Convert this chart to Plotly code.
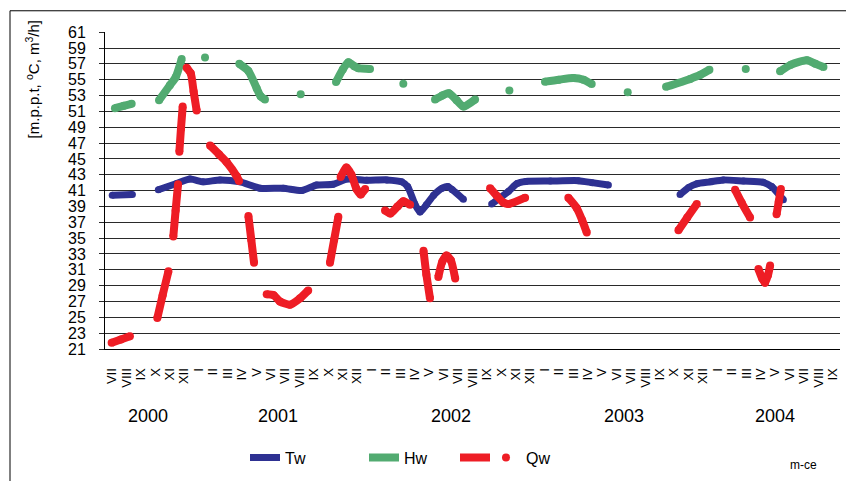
import plotly.graph_objects as go

# ---------------- data ----------------
months = ["VII", "VIII", "IX", "X", "XI", "XII",
          "I", "II", "III", "IV", "V", "VI", "VII", "VIII", "IX", "X", "XI", "XII",
          "I", "II", "III", "IV", "V", "VI", "VII", "VIII", "IX", "X", "XI", "XII",
          "I", "II", "III", "IV", "V", "VI", "VII", "VIII", "IX", "X", "XI", "XII",
          "I", "II", "III", "IV", "V", "VI", "VII", "VIII", "IX"]
years = ["2000", "2001", "2002", "2003", "2004"]
year_first_month = [0, 6, 18, 30, 42]
year_last_month = [5, 17, 29, 41, 50]

tw_x = [0.5, 1.9, None,
        3.7, 4.97, 5.9, 6.82, 7.98, 9.37, 10.76, 12.37, 13.65, 14.69, 15.84, 16.77,
        18.16, 19.55, 20.59, 21.0, 21.5, 21.86, 22.3, 22.8, 23.4, 23.8, 24.1, 24.87, None,
        26.83, 28.0, 28.6, 29.2, 30.9, 32.85, 33.8, 34.93, None,
        39.9, 40.5, 41.06, 42.0, 42.9, 44.3, 45.68, 46.26, 47.07]
tw_y = [40.4, 40.5, None,
        41.1, 41.9, 42.45, 42.1, 42.35, 42.1, 41.3, 41.3, 41.0, 41.7, 41.8, 42.45,
        42.3, 42.35, 42.1, 41.5, 39.3, 38.3, 39.2, 40.4, 41.3, 41.5, 41.1, 39.9, None,
        39.3, 40.9, 41.9, 42.15, 42.2, 42.25, 42.0, 41.7, None,
        40.5, 41.4, 41.85, 42.1, 42.35, 42.2, 42.05, 41.5, 39.85]

hw_x = [0.69, 1.3, 1.85, None,
        3.75, 4.5, 4.9, 5.32, None,
        6.94, None,
        9.32, 9.95, 10.53, 10.8, 11.1, None,
        13.58, None,
        16.03, 16.5, 16.89, 17.3, 17.58, 18.39, None,
        20.7, None,
        22.9, 23.4, 23.85, 24.4, 24.87, 25.68, None,
        28.06, None,
        30.53, 31.5, 32.5, 33.2, 33.77, None,
        36.27, None,
        38.93, 40.6, 41.3, 41.94, None,
        44.46, None,
        46.84, 47.6, 48.7, 49.3, 49.85]
hw_y = [51.4, 51.7, 51.95, None,
        52.4, 54.3, 55.3, 57.6, None,
        57.8, None,
        57.0, 56.1, 53.9, 52.9, 52.5, None,
        53.15, None,
        54.7, 56.3, 57.2, 56.7, 56.45, 56.35, None,
        54.5, None,
        52.5, 53.0, 53.3, 52.4, 51.6, 52.5, None,
        53.65, None,
        54.75, 55.0, 55.2, 55.0, 54.45, None,
        53.4, None,
        54.1, 55.1, 55.6, 56.25, None,
        56.35, None,
        56.05, 56.9, 57.45, 57.0, 56.6]

qw_x = [0.46, 1.1, 1.73, None,
        3.63, 4.0, 4.4, None,
        4.74, 4.9, 5.07, None,
        5.16, 5.27, 5.39, None,
        5.67, 5.95, 6.15, 6.36, None,
        7.29, 7.9, 8.44, 9.14, 9.3, None,
        9.95, 10.15, 10.34, None,
        11.22, 11.7, 12.14, 12.84, 13.53, 14.1, None,
        15.61, 15.9, 16.19, None,
        16.35, 16.75, 17.1, 17.45, 17.75, 18.05, None,
        19.43, 19.8, 20.3, 20.7, 21.17, None,
        22.1, 22.3, 22.55, None,
        23.13, 23.4, 23.7, 24.0, 24.3, None,
        26.72, 27.2, 27.64, 28.0, 29.15, None,
        32.15, 32.73, 33.1, 33.43, None,
        39.79, 40.4, 41.06, None,
        43.72, 44.18, 44.76, None,
        45.34, 45.6, 45.8, 46.0, 46.15, None,
        46.6, 46.75, 46.9]
qw_y = [21.8, 22.2, 22.6, None,
        24.9, 27.8, 30.8, None,
        35.2, 38.5, 41.8, None,
        45.9, 48.8, 51.6, None,
        56.5, 55.8, 53.5, 51.1, None,
        46.7, 45.6, 44.6, 42.8, 42.2, None,
        37.8, 34.8, 31.9, None,
        27.9, 27.8, 27.0, 26.6, 27.4, 28.4, None,
        31.9, 34.8, 37.7, None,
        42.7, 43.9, 43.0, 41.2, 40.5, 41.2, None,
        38.5, 38.1, 39.0, 39.65, 39.2, None,
        33.4, 30.4, 27.4, None,
        30.1, 32.0, 32.8, 32.2, 29.9, None,
        41.3, 40.3, 39.5, 39.3, 40.1, None,
        40.1, 38.8, 37.3, 35.7, None,
        36.0, 37.6, 39.3, None,
        41.1, 39.45, 37.6, None,
        31.1, 29.9, 29.35, 30.3, 31.55, None,
        38.0, 39.6, 41.2]

# ---------------- style ----------------
BLUE = "#2E3192"
GREEN = "#52AB71"
RED = "#EE1D25"
FONT = "Arial, Liberation Sans, sans-serif"

W, H = 846, 481
L, R, T, B = 105, 6, 32, 128
PW, PH = W - L - R, H - T - B


def px_x(p):
    return (p - L) / PW


def px_y(p):
    return 1 - (p - T) / PH


fig = go.Figure()

series = [
    ("Tw", tw_x, tw_y, BLUE, 7, "legend"),
    ("Hw", hw_x, hw_y, GREEN, 8, "legend2"),
    ("Qw", qw_x, qw_y, RED, 8, "legend3"),
]
for name, xs, ys, col, w, lg in series:
    fig.add_trace(go.Scatter(
        x=xs, y=ys, mode="lines", name=(name if name != "Qw" else " "),
        line=dict(color=col, width=w, shape="spline", smoothing=0.6),
        connectgaps=False, legend=lg, showlegend=True, hoverinfo="skip"))
    fig.add_trace(go.Scatter(
        x=xs, y=ys, mode="markers", name=name,
        marker=dict(color=col, size=w, line=dict(width=0)),
        legend=("legend4" if name == "Qw" else lg),
        showlegend=(name == "Qw"), hoverinfo="skip"))

# year labels
annotations = []
for yr, a, b in zip(years, year_first_month, year_last_month):
    annotations.append(dict(
        x=(a + b + 1) / 2, y=px_y(421), xref="x", yref="paper",
        text=yr, showarrow=False, font=dict(family=FONT, size=18, color="black"),
        xanchor="center", yanchor="middle"))

annotations.append(dict(
    x=px_x(32), y=px_y(80), xref="paper", yref="paper",
    text="[m.p.p.t, <sup>o</sup>C, m<sup>3</sup>/h]", textangle=-90, showarrow=False,
    font=dict(family=FONT, size=15, color="black"), xanchor="center", yanchor="middle"))

annotations.append(dict(
    x=px_x(803), y=px_y(470), xref="paper", yref="paper",
    text="m-ce", showarrow=False, font=dict(family=FONT, size=12, color="black"),
    xanchor="center", yanchor="middle"))

legend_font = dict(family=FONT, size=16, color="black")
common_leg = dict(orientation="h", yanchor="middle", y=px_y(463), xanchor="left",
                  font=legend_font, bgcolor="rgba(0,0,0,0)", borderwidth=0,
                  itemclick=False, itemdoubleclick=False)

fig.update_layout(
    width=W, height=H,
    margin=dict(l=L, r=R, t=T, b=B, pad=0),
    paper_bgcolor="white", plot_bgcolor="white",
    font=dict(family=FONT, size=14, color="black"),
    xaxis=dict(
        range=[0, len(months)], tickmode="array",
        tickvals=[i + 0.5 for i in range(len(months))], ticktext=months,
        tickangle=-90, tickfont=dict(family=FONT, size=13, color="black"),
        showgrid=False, zeroline=False, showline=True, linecolor="black", linewidth=1,
        ticks="", ticklabelstandoff=13, fixedrange=True),
    yaxis=dict(
        range=[21, 61.02], tick0=21, dtick=2,
        tickfont=dict(family=FONT, size=16, color="black"),
        showgrid=True, gridcolor="#2a2a2a", gridwidth=1,
        zeroline=False, showline=True, linecolor="black", linewidth=1,
        ticks="outside", ticklen=5, tickcolor="#2a2a2a", ticklabelstandoff=10,
        fixedrange=True),
    legend=dict(x=px_x(245), **common_leg),
    legend2=dict(x=px_x(364), **common_leg),
    legend3=dict(x=px_x(455), **common_leg),
    legend4=dict(x=px_x(486), **common_leg),
    annotations=annotations,
    shapes=[dict(type="rect", xref="paper", yref="paper",
                 x0=px_x(10), x1=1.3, y0=-0.7, y1=px_y(10.5),
                 line=dict(color="black", width=1), fillcolor="rgba(0,0,0,0)",
                 layer="below")],
    showlegend=True,
)

fig.write_html("out.html", config={"displayModeBar": False},
               post_script="document.body.style.margin='0';")
